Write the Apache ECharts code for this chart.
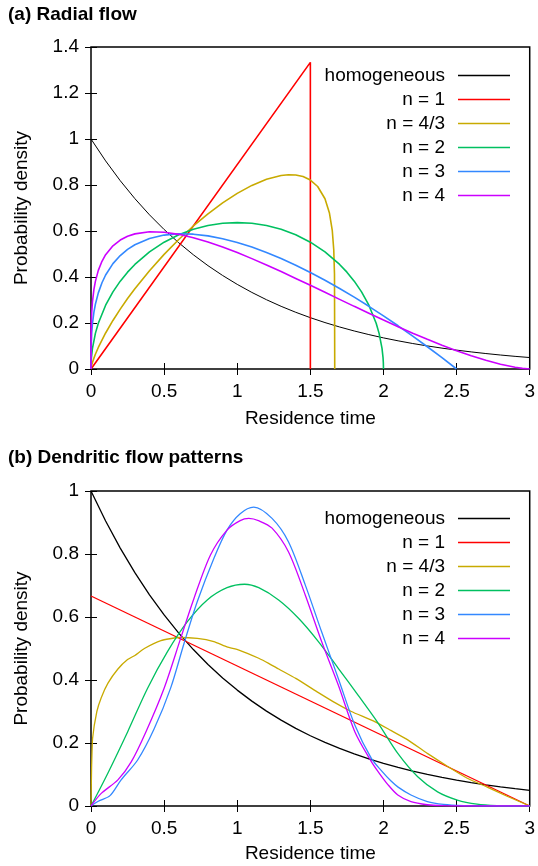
<!DOCTYPE html>
<html>
<head>
<meta charset="utf-8">
<script src="https://cdn.jsdelivr.net/npm/echarts@6/dist/echarts.min.js"></script>
<style>
html,body{margin:0;padding:0;background:#fff;}
#chart{width:538px;height:866px;}
</style>
</head>
<body>
<div id="chart"></div>
<script>
// ---------- tick labels / axis settings ----------
const xTicks = [0, 0.5, 1, 1.5, 2, 2.5, 3];
const yTicksA = [0, 0.2, 0.4, 0.6, 0.8, 1, 1.2, 1.4];
const yTicksB = [0, 0.2, 0.4, 0.6, 0.8, 1];
const seriesNames = ['homogeneous', 'n = 1', 'n = 4/3', 'n = 2', 'n = 3', 'n = 4'];
const seriesColors = ['#000000', '#ff0000', '#c8aa00', '#00c060', '#3388ff', '#cc00ff'];

// ---------- (a) Radial flow: [time, density] ----------
const homogeneous = [[0,1],[0.1,0.9048],[0.2,0.8187],[0.3,0.7408],[0.4,0.6703],[0.5,0.6065],[0.6,0.5488],[0.7,0.4966],[0.8,0.4493],[0.9,0.4066],[1,0.3679],[1.1,0.3329],[1.2,0.3012],[1.3,0.2725],[1.4,0.2466],[1.5,0.2231],[1.6,0.2019],[1.7,0.1827],[1.8,0.1653],[1.9,0.1496],[2,0.1353],[2.1,0.1225],[2.2,0.1108],[2.3,0.1003],[2.4,0.0907],[2.5,0.0821],[2.6,0.0743],[2.7,0.0672],[2.8,0.0608],[2.9,0.0550],[3,0.0498]];
const radialN1 = [[0,0],[1.5,1.3333],[1.5,0]];
const radialN43 = [[0,0],[0.005,0.0167],[0.01,0.0281],[0.02,0.0472],[0.03,0.0639],[0.05,0.0936],[0.1,0.1566],[0.15,0.2111],[0.2,0.2605],[0.25,0.3062],[0.3,0.3489],[0.4,0.4275],[0.5,0.4985],[0.6,0.5630],[0.7,0.6218],[0.8,0.6749],[0.9,0.7223],[1,0.7637],[1.1,0.7983],[1.2,0.8250],[1.3,0.8416],[1.35,0.8448],[1.4,0.8437],[1.45,0.8367],[1.5,0.8216],[1.55,0.7934],[1.6,0.7402],[1.63,0.6794],[1.65,0.6012],[1.66,0.5184],[1.665,0.4124],[1.6667,0]];
const radialN2 = [[0,0],[0.001,0.0285],[0.003,0.0493],[0.01,0.0898],[0.03,0.1548],[0.05,0.1988],[0.1,0.2775],[0.15,0.3354],[0.2,0.382],[0.25,0.4211],[0.3,0.4546],[0.4,0.5093],[0.5,0.5513],[0.6,0.5835],[0.7,0.6073],[0.8,0.6237],[0.9,0.6334],[1,0.6366],[1.1,0.6334],[1.2,0.6237],[1.3,0.6073],[1.4,0.5835],[1.5,0.5513],[1.6,0.5093],[1.7,0.4546],[1.75,0.4211],[1.8,0.382],[1.85,0.3354],[1.9,0.2775],[1.95,0.1988],[1.97,0.1548],[1.99,0.0898],[1.997,0.0493],[1.999,0.0285],[2,0]];
const radialN3 = [[0,0],[0.001,0.0917],[0.005,0.1565],[0.01,0.1968],[0.02,0.2469],[0.03,0.2815],[0.05,0.3310],[0.075,0.3751],[0.1,0.4086],[0.15,0.4580],[0.2,0.4933],[0.25,0.5199],[0.3,0.5401],[0.4,0.5675],[0.5,0.5822],[0.6,0.5878],[0.7,0.5862],[0.8,0.5788],[0.9,0.5666],[1,0.5502],[1.1,0.5301],[1.2,0.5067],[1.3,0.4803],[1.4,0.4513],[1.5,0.4198],[1.6,0.3861],[1.7,0.3502],[1.8,0.3123],[1.9,0.2726],[2,0.2311],[2.1,0.1879],[2.2,0.1431],[2.3,0.0968],[2.4,0.0491],[2.5,0]];
const radialN4 = [[0,0],[0.001,0.1653],[0.002,0.1964],[0.005,0.2466],[0.01,0.2925],[0.02,0.3462],[0.03,0.3811],[0.05,0.4287],[0.075,0.4684],[0.1,0.4969],[0.15,0.5358],[0.2,0.5606],[0.25,0.5770],[0.3,0.5875],[0.4,0.5966],[0.5,0.5947],[0.6,0.5855],[0.7,0.5709],[0.8,0.5522],[0.9,0.5304],[1,0.5061],[1.1,0.4799],[1.2,0.4523],[1.3,0.4235],[1.4,0.3939],[1.5,0.3638],[1.6,0.3334],[1.7,0.3028],[1.8,0.2724],[1.9,0.2424],[2,0.2128],[2.1,0.1839],[2.2,0.1559],[2.3,0.1291],[2.4,0.1035],[2.5,0.0795],[2.6,0.0575],[2.7,0.0377],[2.8,0.0207],[2.9,0.0074],[2.95,0.0026],[3,0]];

// ---------- (b) Dendritic flow patterns: [time, density] ----------
const dendN1 = [[0,0.6667],[3,0]];
const dendN43 = [[0,0],[0.004,0.12],[0.011,0.215],[0.04,0.30],[0.07,0.344],[0.116,0.39],[0.184,0.435],[0.25,0.465],[0.3,0.478],[0.365,0.500],[0.478,0.525],[0.6,0.535],[0.727,0.532],[0.84,0.522],[0.93,0.505],[1.012,0.495],[1.147,0.469],[1.215,0.453],[1.283,0.435],[1.4,0.405],[1.555,0.36],[1.668,0.328],[1.78,0.30],[1.94,0.268],[2.05,0.24],[2.166,0.21],[2.3,0.167],[2.437,0.126],[2.573,0.088],[2.709,0.060],[2.845,0.031],[3,0]];
const dendN2 = [[0,0],[0.116,0.105],[0.251,0.236],[0.387,0.374],[0.523,0.49],[0.659,0.585],[0.795,0.654],[0.93,0.693],[1.05,0.704],[1.147,0.693],[1.283,0.654],[1.419,0.596],[1.555,0.522],[1.691,0.437],[1.826,0.352],[1.962,0.264],[2.098,0.167],[2.234,0.093],[2.37,0.045],[2.505,0.019],[2.64,0.006],[2.777,0.001],[2.9,0],[3,0]];
const dendN3 = [[0,0],[0.05,0.015],[0.13,0.033],[0.206,0.083],[0.319,0.146],[0.432,0.245],[0.545,0.375],[0.636,0.516],[0.727,0.649],[0.84,0.786],[0.93,0.876],[1.02,0.928],[1.113,0.949],[1.238,0.913],[1.35,0.839],[1.465,0.702],[1.577,0.553],[1.691,0.405],[1.804,0.257],[1.917,0.151],[1.99,0.11],[2.05,0.08],[2.1,0.06],[2.188,0.035],[2.3,0.014],[2.41,0.005],[2.55,0.001],[2.7,0],[2.85,0],[3,0]];
const dendN4 = [[0,0],[0.07,0.04],[0.184,0.083],[0.275,0.14],[0.376,0.236],[0.5,0.374],[0.613,0.532],[0.704,0.659],[0.817,0.797],[0.93,0.876],[1.02,0.906],[1.079,0.913],[1.15,0.905],[1.238,0.882],[1.35,0.807],[1.465,0.670],[1.577,0.522],[1.691,0.384],[1.804,0.236],[1.917,0.141],[1.962,0.11],[2.03,0.068],[2.098,0.035],[2.188,0.014],[2.3,0.004],[2.4,0.001],[2.55,0],[2.7,0],[2.85,0],[3,0]];

const FONT = '"Liberation Sans", Arial, Helvetica, sans-serif';
const FS = 19;

function xAxisMain(gi) {
  return {
    type: 'value', gridIndex: gi, min: 0, max: 3, interval: 0.5,
    axisLine: {show: false},
    axisTick: {inside: true, length: 6, lineStyle: {color: '#000', width: 1}},
    axisLabel: {color: '#000', fontSize: FS, fontFamily: FONT, margin: 13,
      formatter: v => xTicks.indexOf(+v.toFixed(2)) >= 0 ? String(+v.toFixed(2)) : ''},
    splitLine: {show: false},
    name: 'Residence time', nameLocation: 'middle', nameGap: gi === 0 ? 40 : 38,
    nameTextStyle: {color: '#000', fontSize: FS, fontFamily: FONT}
  };
}
function xAxisMirror(gi) {
  return {
    type: 'value', gridIndex: gi, position: 'top', min: 0, max: 3, interval: 0.5,
    axisLine: {show: false},
    axisTick: {inside: true, length: 6, lineStyle: {color: '#000', width: 1}},
    axisLabel: {show: false}, splitLine: {show: false}
  };
}
function yAxisMain(gi, max, ticks) {
  return {
    type: 'value', gridIndex: gi, min: 0, max: max, interval: 0.2,
    axisLine: {show: false},
    axisTick: {inside: true, length: 6, lineStyle: {color: '#000', width: 1}},
    axisLabel: {color: '#000', fontSize: FS, fontFamily: FONT, margin: 12,
      formatter: v => String(+v.toFixed(2))},
    splitLine: {show: false},
    name: 'Probability density', nameLocation: 'middle', nameRotate: 90, nameGap: 60,
    nameTextStyle: {color: '#000', fontSize: FS, fontFamily: FONT}
  };
}
function yAxisMirror(gi, max) {
  return {
    type: 'value', gridIndex: gi, position: 'right', min: 0, max: max, interval: 0.2,
    axisLine: {show: false},
    axisTick: {inside: true, length: 6, lineStyle: {color: '#000', width: 1}},
    axisLabel: {show: false}, splitLine: {show: false}
  };
}

const panelA = [homogeneous, radialN1, radialN43, radialN2, radialN3, radialN4];
const panelB = [homogeneous, dendN1, dendN43, dendN2, dendN3, dendN4];

const series = [];
panelA.forEach((d, i) => series.push({
  name: seriesNames[i], type: 'line', xAxisIndex: 0, yAxisIndex: 0, data: d,
  showSymbol: false, symbol: 'none', color: seriesColors[i],
  lineStyle: {width: i === 0 ? 1 : 1.6, color: seriesColors[i]}, z: 2 + i
}));
panelB.forEach((d, i) => series.push({
  name: seriesNames[i], type: 'line', xAxisIndex: 2, yAxisIndex: 2, data: d,
  showSymbol: false, symbol: 'none', color: seriesColors[i],
  smooth: i >= 3 ? 0.3 : (i === 2 ? 0.15 : false),
  lineStyle: {width: 1.3, color: seriesColors[i]}, z: 2 + i
}));

function legendAt(top) {
  return {
    orient: 'vertical', align: 'right', right: 28, top: top, padding: 0,
    icon: 'rect', itemWidth: 52, itemHeight: 1.5, itemGap: 5,
    selectedMode: false,
    textStyle: {color: '#000', fontSize: FS, fontFamily: FONT, padding: [0, 8, 0, 0]},
    data: seriesNames
  };
}

const chart = echarts.init(document.getElementById('chart'), null, {renderer: 'canvas'});
chart.setOption({
  animation: false,
  backgroundColor: '#fff',
  title: [
    {text: '(a) Radial flow', left: 8, top: 5, padding: 0,
      textStyle: {fontSize: FS, fontWeight: 'bold', color: '#000', fontFamily: FONT}},
    {text: '(b) Dendritic flow patterns', left: 8, top: 448, padding: 0,
      textStyle: {fontSize: FS, fontWeight: 'bold', color: '#000', fontFamily: FONT}}
  ],
  legend: [legendAt(66), legendAt(509)],
  grid: [
    {left: 91, top: 47, width: 442, height: 322, show: true, borderColor: '#000', borderWidth: 1.5},
    {left: 91, top: 491, width: 442, height: 315, show: true, borderColor: '#000', borderWidth: 1.5}
  ],
  xAxis: [xAxisMain(0), xAxisMirror(0), xAxisMain(1), xAxisMirror(1)],
  yAxis: [yAxisMain(0, 1.4, yTicksA), yAxisMirror(0, 1.4), yAxisMain(1, 1, yTicksB), yAxisMirror(1, 1)],
  series: series
});
</script>
</body>
</html>
